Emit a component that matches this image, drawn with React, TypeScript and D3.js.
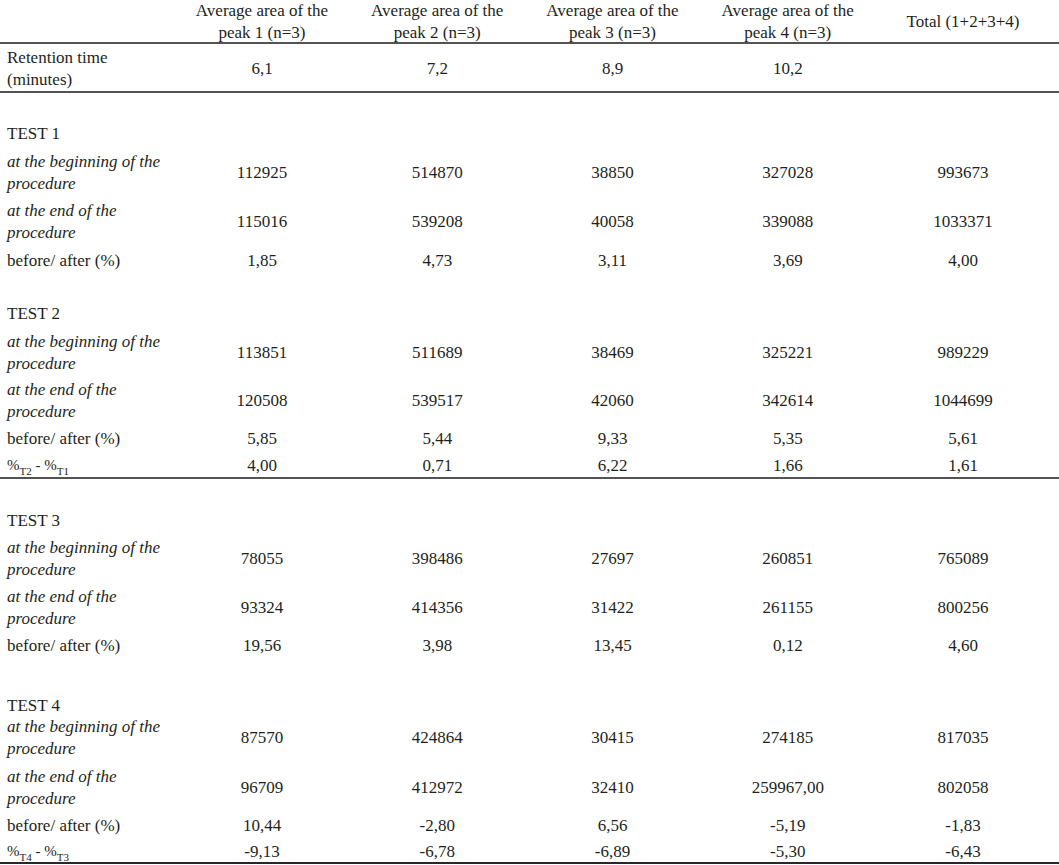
import React from "react";
import * as d3 from "d3";

// ---------- DATA ----------
const columnHeaders: string[][] = [
  ["Average area of the", "peak 1 (n=3)"],
  ["Average area of the", "peak 2 (n=3)"],
  ["Average area of the", "peak 3 (n=3)"],
  ["Average area of the", "peak 4 (n=3)"],
  ["Total (1+2+3+4)"],
];
const retentionTimes: (number | null)[] = [6.1, 7.2, 8.9, 10.2, null];

const test1Begin = [112925, 514870, 38850, 327028, 993673];
const test1End = [115016, 539208, 40058, 339088, 1033371];
const test1Change = [1.85, 4.73, 3.11, 3.69, 4.0];

const test2Begin = [113851, 511689, 38469, 325221, 989229];
const test2End = [120508, 539517, 42060, 342614, 1044699];
const test2Change = [5.85, 5.44, 9.33, 5.35, 5.61];
const diffT2T1 = [4.0, 0.71, 6.22, 1.66, 1.61];

const test3Begin = [78055, 398486, 27697, 260851, 765089];
const test3End = [93324, 414356, 31422, 261155, 800256];
const test3Change = [19.56, 3.98, 13.45, 0.12, 4.6];

const test4Begin = [87570, 424864, 30415, 274185, 817035];
const test4End = [96709, 412972, 32410, 259967.0, 802058];
const test4EndDecimals = [0, 0, 0, 2, 0];
const test4Change = [10.44, -2.8, 6.56, -5.19, -1.83];
const diffT4T3 = [-9.13, -6.78, -6.89, -5.3, -6.43];

const beginLabel = ["at the beginning of the", "procedure"];
const endLabel = ["at the end of the", "procedure"];
const changeLabel = "before/ after (%)";

// ---------- FORMAT ----------
const locale = d3.formatLocale({
  decimal: ",",
  thousands: ".",
  grouping: [3],
  currency: ["", ""],
  minus: "-",
});
const fmtDec = (d: number) => locale.format(`.${d}f`);

type Row = {
  kind: "test" | "value" | "diff";
  label?: string | string[];
  italic?: boolean;
  values?: number[];
  decimals?: number[];
  sub?: [string, string];
  gap: number; // distance from previous row centre (layout)
  ruleAfter?: number; // distance to rule after row (layout)
};

const d0 = [0, 0, 0, 0, 0];
const d2 = [2, 2, 2, 2, 2];

const rows: Row[] = [
  { kind: "test", label: "TEST 1", gap: 41 },
  { kind: "value", label: beginLabel, italic: true, values: test1Begin, decimals: d0, gap: 39 },
  { kind: "value", label: endLabel, italic: true, values: test1End, decimals: d0, gap: 49 },
  { kind: "value", label: changeLabel, values: test1Change, decimals: d2, gap: 39 },
  { kind: "test", label: "TEST 2", gap: 53 },
  { kind: "value", label: beginLabel, italic: true, values: test2Begin, decimals: d0, gap: 39 },
  { kind: "value", label: endLabel, italic: true, values: test2End, decimals: d0, gap: 48 },
  { kind: "value", label: changeLabel, values: test2Change, decimals: d2, gap: 38 },
  { kind: "diff", sub: ["T2", "T1"], values: diffT2T1, decimals: d2, gap: 27, ruleAfter: 13 },
  { kind: "test", label: "TEST 3", gap: 42 },
  { kind: "value", label: beginLabel, italic: true, values: test3Begin, decimals: d0, gap: 38 },
  { kind: "value", label: endLabel, italic: true, values: test3End, decimals: d0, gap: 49 },
  { kind: "value", label: changeLabel, values: test3Change, decimals: d2, gap: 38 },
  { kind: "test", label: "TEST 4", gap: 60 },
  { kind: "value", label: beginLabel, italic: true, values: test4Begin, decimals: d0, gap: 32 },
  { kind: "value", label: endLabel, italic: true, values: test4End, decimals: test4EndDecimals, gap: 50 },
  { kind: "value", label: changeLabel, values: test4Change, decimals: d2, gap: 38 },
  { kind: "diff", sub: ["T4", "T3"], values: diffT4T3, decimals: d2, gap: 26, ruleAfter: 12 },
];

// ---------- LAYOUT ----------
const W = 1059;
const H = 865;
const FONT = "'Liberation Serif', 'Times New Roman', serif";
const FS = 17;
const INK = "#231f20";
const LABEL_X = 7;
const LINE_H = 22;

export default function App() {
  const colIdx = d3.range(columnHeaders.length).map(String);
  const x = d3.scalePoint<string>().domain(colIdx).range([262, 963]);

  const headerY = 21;
  const rule1 = 43;
  const retentionY = 68;
  const rule2 = 92;

  // cumulative row centres
  let cur = rule2;
  const rules: number[] = [rule1, rule2];
  const placed = rows.map((r) => {
    cur += r.gap;
    const y = cur;
    if (r.ruleAfter) {
      cur += r.ruleAfter;
      rules.push(cur);
    }
    return { ...r, y };
  });

  const dy = "0.33em";

  const multiLine = (lines: string[], cx: number, cy: number, anchor: string, italic = false, key = "") => {
    const n = lines.length;
    return lines.map((t, i) => (
      <text
        key={key + i}
        x={cx}
        y={cy + (i - (n - 1) / 2) * LINE_H}
        dy={dy}
        textAnchor={anchor as any}
        fontStyle={italic ? "italic" : "normal"}
      >
        {t}
      </text>
    ));
  };

  return (
    <svg
      width={W}
      height={H}
      style={{ position: "absolute", left: 0, top: 0, background: "#fff" }}
      fontFamily={FONT}
      fontSize={FS}
      fill={INK}
    >
      <rect width={W} height={H} fill="#fff" />
      {/* header */}
      {columnHeaders.map((h, i) => (
        <g key={"h" + i}>{multiLine(h, x(String(i))!, headerY, "middle", false, "h" + i)}</g>
      ))}
      {/* retention */}
      {multiLine(["Retention time", "(minutes)"], LABEL_X, retentionY, "start", false, "rt")}
      {retentionTimes.map((v, i) =>
        v == null ? null : (
          <text key={"rv" + i} x={x(String(i))} y={retentionY} dy={dy} textAnchor="middle">
            {fmtDec(1)(v)}
          </text>
        )
      )}
      {/* body rows */}
      {placed.map((r, ri) => (
        <g key={"r" + ri}>
          {r.kind === "test" && (
            <text x={LABEL_X} y={r.y} dy={dy}>
              {r.label as string}
            </text>
          )}
          {r.kind === "value" &&
            (Array.isArray(r.label)
              ? multiLine(r.label, LABEL_X, r.y, "start", r.italic, "l" + ri)
              : (
                <text x={LABEL_X} y={r.y} dy={dy} fontStyle={r.italic ? "italic" : "normal"}>
                  {r.label}
                </text>
              ))}
          {r.kind === "diff" && r.sub && (
            <text x={LABEL_X} y={r.y} dy={dy} fontSize={15}>
              %
              <tspan fontSize={11} dy={5}>
                {r.sub[0]}
              </tspan>
              <tspan dy={-5}> - %</tspan>
              <tspan fontSize={11} dy={5}>
                {r.sub[1]}
              </tspan>
            </text>
          )}
          {r.values &&
            r.values.map((v, ci) => (
              <text key={"v" + ci} x={x(String(ci))} y={r.y} dy={dy} textAnchor="middle">
                {fmtDec(r.decimals ? r.decimals[ci] : 0)(v)}
              </text>
            ))}
        </g>
      ))}
      {/* rules */}
      {[...rules, H - 2].map((ry, i) => (
        <line key={"rule" + i} x1={0} x2={W} y1={ry} y2={ry} stroke="#1a1a1a" strokeWidth={1.3} />
      ))}
    </svg>
  );
}
